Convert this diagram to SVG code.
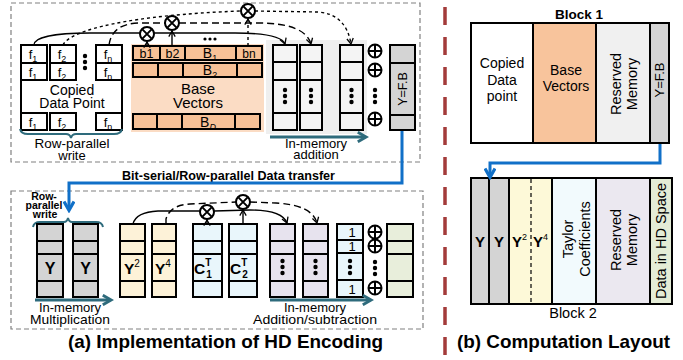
<svg xmlns="http://www.w3.org/2000/svg" xmlns:xlink="http://www.w3.org/1999/xlink" width="683" height="360" viewBox="0 0 683 360">
<style>
text{font-family:"Liberation Sans",Arial,sans-serif;fill:#000}
.cell{stroke:#000;stroke-width:2}
.w{fill:#fff}
.gr{fill:#d4d4d4}
.lg{fill:#f4f4f4}
.pe{fill:#f7c197}
.cr{fill:#fdf2d8}
.bl{fill:#e9f6fb}
.pu{fill:#e7e3ee}
.gn{fill:#e8eedb}
.box{fill:none;stroke:#808080;stroke-width:1.2;stroke-dasharray:5 3}
.teal{fill:none;stroke:#2e6b7c;stroke-width:3}
.brace{fill:none;stroke:#2e6b7c;stroke-width:2}
.blue{fill:none;stroke:#1170c8;stroke-width:3}
.ln{fill:none;stroke:#000;stroke-width:1.4}
.d1{stroke-dasharray:7 4}
.d2{stroke-dasharray:3 3}
.t13{font-size:13px}
.t14{font-size:14px}
.lab{font-size:13px;text-anchor:middle}
.c{text-anchor:middle}
.b{font-weight:bold}
</style>
<defs>
<g id="ot"><circle r="7" fill="#fff" stroke="#000" stroke-width="2"/><path d="M-4.6,-4.6L4.6,4.6M4.6,-4.6L-4.6,4.6" stroke="#000" stroke-width="2"/></g>
<g id="op"><circle r="6.5" fill="#fff" stroke="#000" stroke-width="2"/><path d="M-6.5,0H6.5M0,-6.5V6.5" stroke="#000" stroke-width="2"/></g>
<g id="vd"><circle cx="0" cy="-6" r="2.2"/><circle cx="0" cy="0" r="2.2"/><circle cx="0" cy="6" r="2.2"/></g>
<marker id="ah" viewBox="0 0 10 10" refX="8" refY="5" markerWidth="8" markerHeight="8" markerUnits="userSpaceOnUse" orient="auto"><path d="M1,1L8,5L1,9" fill="none" stroke="#000" stroke-width="1.6"/></marker>
<marker id="tah" viewBox="0 0 10 10" refX="7" refY="5" markerWidth="4" markerHeight="4" orient="auto"><path d="M1,1L8,5L1,9" fill="none" stroke="#2e6b7c" stroke-width="2.4"/></marker>
<marker id="bah" viewBox="0 0 10 10" refX="7" refY="5" markerWidth="4.2" markerHeight="4.2" orient="auto"><path d="M1,1L8,5L1,9" fill="none" stroke="#1170c8" stroke-width="2.6"/></marker>
</defs>

<rect x="0" y="0" width="683" height="360" fill="#fff"/>

<!-- section frames -->
<g id="frames">
<rect class="box" x="11" y="3" width="409" height="159"/>
<rect class="box" x="11" y="191" width="412" height="138"/>
<line x1="445" y1="7" x2="445" y2="360" stroke="#a33b3a" stroke-width="3.5" stroke-dasharray="18 12"/>
</g>

<!-- ===== (a) top: copied data point ===== -->
<g id="copied-data-point">
<rect class="w" x="21" y="45" width="101" height="85"/>
<rect class="cell w" x="21" y="45" width="26" height="18"/><rect class="cell w" x="21" y="63" width="26" height="17"/><rect class="cell w" x="21" y="113" width="26" height="17"/>
<rect class="cell w" x="50" y="45" width="26" height="18"/><rect class="cell w" x="50" y="63" width="26" height="17"/><rect class="cell w" x="50" y="113" width="26" height="17"/>
<rect class="cell w" x="96" y="45" width="26" height="18"/><rect class="cell w" x="96" y="63" width="26" height="17"/><rect class="cell w" x="96" y="113" width="26" height="17"/>
<path d="M21,80V113M122,80V113" stroke="#000" stroke-width="2"/>
<g class="t13 c">
<text x="33" y="59">f<tspan font-size="9" dy="3">1</tspan></text>
<text x="33" y="77">f<tspan font-size="9" dy="3">1</tspan></text>
<text x="33" y="127">f<tspan font-size="9" dy="3">1</tspan></text>
<text x="62" y="59">f<tspan font-size="9" dy="3">2</tspan></text>
<text x="62" y="77">f<tspan font-size="9" dy="3">2</tspan></text>
<text x="62" y="127">f<tspan font-size="9" dy="3">2</tspan></text>
<text x="108" y="59">f<tspan font-size="9" dy="3">n</tspan></text>
<text x="108" y="77">f<tspan font-size="9" dy="3">n</tspan></text>
<text x="108" y="127">f<tspan font-size="9" dy="3">n</tspan></text>
</g>
<use href="#vd" x="85" y="62"/>
<text class="t14 c" x="72" y="95">Copied</text>
<text class="t14 c" x="72" y="108">Data Point</text>
<path class="brace" d="M20,129Q21,134 28,134H66Q70,134 71,138Q72,134 76,134H114Q121,134 122,129"/>
<text class="lab" x="72" y="148" textLength="75" lengthAdjust="spacingAndGlyphs">Row-parallel</text>
<text class="lab" x="72" y="159.5">write</text>
</g>

<!-- base vectors -->
<g id="base-vectors">
<rect x="131" y="44" width="133" height="88" fill="#fbdcc4"/>
<rect class="cell pe" x="133" y="46" width="27" height="14"/><rect class="cell pe" x="160" y="46" width="25" height="14"/><rect class="cell pe" x="185" y="46" width="51" height="14"/><rect class="cell pe" x="236" y="46" width="26" height="14"/>
<rect class="cell pe" x="133" y="63" width="25" height="14"/><rect class="cell pe" x="158" y="63" width="25" height="14"/><rect class="cell pe" x="183" y="63" width="54" height="14"/><rect class="cell pe" x="237" y="63" width="25" height="14"/>
<rect class="cell pe" x="133" y="114" width="24" height="15"/><rect class="cell pe" x="157" y="114" width="25" height="15"/><rect class="cell pe" x="182" y="114" width="53" height="15"/><rect class="cell pe" x="235" y="114" width="25" height="15"/>
<text class="c" font-size="12.5" x="146.5" y="58">b1</text>
<text class="c" font-size="12.5" x="172.5" y="58">b2</text>
<text class="c t14" x="210" y="58">B<tspan font-size="9" dy="3">1</tspan></text>
<text class="c" font-size="12" x="249" y="58">bn</text>
<text class="c t14" x="210" y="75">B<tspan font-size="9" dy="3">2</tspan></text>
<text class="c t14" x="208" y="127">B<tspan font-size="9" dy="3" font-style="italic">D</tspan></text>
<text class="c" font-size="15" x="198" y="94">Base</text>
<text class="c" font-size="15" x="198" y="108">Vectors</text>
<g><circle cx="205" cy="39" r="1.6"/><circle cx="210" cy="39" r="1.6"/><circle cx="215" cy="39" r="1.6"/></g>
</g>

<!-- multipliers top -->
<g id="mult-top">
<use href="#ot" x="147" y="34"/>
<use href="#ot" x="172" y="23"/>
<use href="#ot" x="248" y="11"/>
</g>

<!-- in-memory addition arrays -->
<g id="addition-arrays">
<rect x="266" y="40" width="101" height="94" fill="#efefef"/>
<rect class="cell lg" x="273" y="45" width="24" height="17"/><rect class="cell lg" x="273" y="62" width="24" height="18"/><rect class="cell lg" x="273" y="80" width="24" height="33"/><rect class="cell lg" x="273" y="113" width="24" height="17"/>
<rect class="cell lg" x="300" y="45" width="22" height="17"/><rect class="cell lg" x="300" y="62" width="22" height="18"/><rect class="cell lg" x="300" y="80" width="22" height="33"/><rect class="cell lg" x="300" y="113" width="22" height="17"/>
<rect class="cell lg" x="340" y="45" width="23" height="17"/><rect class="cell lg" x="340" y="62" width="23" height="18"/><rect class="cell lg" x="340" y="80" width="23" height="33"/><rect class="cell lg" x="340" y="113" width="23" height="17"/>
<use href="#vd" x="285" y="96"/><use href="#vd" x="311" y="96"/><use href="#vd" x="351.5" y="96"/>
<use href="#op" x="375" y="51"/><use href="#op" x="375" y="70"/><use href="#vd" x="375" y="96"/><use href="#op" x="375" y="119"/>
<line class="teal" x1="270" y1="137" x2="365" y2="137" marker-end="url(#tah)"/>
<text class="lab" x="316" y="147.5">In-memory</text>
<text class="lab" x="316" y="159">addition</text>
</g>

<g id="y-fb">
<rect class="cell gr" x="390" y="45" width="25" height="18"/><rect class="cell gr" x="390" y="63" width="25" height="52"/><rect class="cell gr" x="390" y="115" width="25" height="15"/>
<text class="c" font-size="12.5" transform="translate(407,89) rotate(-90)">Y=F.B</text>
</g>

<!-- ===== (a) bottom ===== -->
<g id="row-parallel-write">
<text class="c b" font-size="10.5" x="44" y="200">Row-</text>
<text class="c b" font-size="10.5" x="44" y="209">parallel</text>
<text class="c b" font-size="10.5" x="45" y="218">write</text>
<path class="brace" d="M33,227Q34,222 40,222H64Q67,222 68,218Q69,222 72,222H96Q102,222 103,227"/>
</g>

<g id="y-columns">
<rect class="cell gr" x="37" y="224" width="26" height="17"/><rect class="cell gr" x="37" y="241" width="26" height="13"/><rect class="cell gr" x="37" y="254" width="26" height="27"/><rect class="cell gr" x="37" y="281" width="26" height="16"/>
<rect class="cell gr" x="73" y="224" width="25" height="17"/><rect class="cell gr" x="73" y="241" width="25" height="13"/><rect class="cell gr" x="73" y="254" width="25" height="27"/><rect class="cell gr" x="73" y="281" width="25" height="16"/>
<text class="c b" font-size="16" x="50" y="274">Y</text>
<text class="c b" font-size="16" x="85.5" y="274">Y</text>
<line class="teal" x1="35" y1="300" x2="110" y2="300" marker-end="url(#tah)"/>
<text class="lab" x="70" y="312">In-memory</text>
<text class="lab" x="70" y="324" textLength="80" lengthAdjust="spacingAndGlyphs">Multiplication</text>
</g>

<g id="y-powers">
<rect class="cell cr" x="120" y="224" width="25" height="17"/><rect class="cell cr" x="120" y="241" width="25" height="13"/><rect class="cell cr" x="120" y="254" width="25" height="27"/><rect class="cell cr" x="120" y="281" width="25" height="16"/>
<rect class="cell cr" x="152" y="224" width="24" height="17"/><rect class="cell cr" x="152" y="241" width="24" height="13"/><rect class="cell cr" x="152" y="254" width="24" height="27"/><rect class="cell cr" x="152" y="281" width="24" height="16"/>
<text class="b" font-size="15.5" x="124" y="274">Y<tspan font-size="10" font-weight="normal" dy="-7">2</tspan></text>
<text class="b" font-size="15.5" x="155" y="274">Y<tspan font-size="10" font-weight="normal" dy="-7">4</tspan></text>
</g>

<g id="taylor-coefficients">
<rect class="cell bl" x="193" y="224" width="29" height="17"/><rect class="cell bl" x="193" y="241" width="29" height="13"/><rect class="cell bl" x="193" y="254" width="29" height="27"/><rect class="cell bl" x="193" y="281" width="29" height="16"/>
<rect class="cell bl" x="229" y="224" width="28" height="17"/><rect class="cell bl" x="229" y="241" width="28" height="13"/><rect class="cell bl" x="229" y="254" width="28" height="27"/><rect class="cell bl" x="229" y="281" width="28" height="16"/>
<text class="b" font-size="15.5" x="194" y="274">C<tspan font-size="10" dy="-8">T</tspan><tspan font-size="10" dx="-5" dy="12">1</tspan></text>
<text class="b" font-size="15.5" x="230" y="274">C<tspan font-size="10" dy="-8">T</tspan><tspan font-size="10" dx="-5" dy="12">2</tspan></text>
</g>

<g id="mult-bottom">
<use href="#ot" x="207" y="212"/>
<use href="#ot" x="243" y="202"/>
</g>

<g id="addsub-arrays">
<rect class="cell pu" x="270" y="224" width="25" height="17"/><rect class="cell pu" x="270" y="241" width="25" height="13"/><rect class="cell pu" x="270" y="254" width="25" height="27"/><rect class="cell pu" x="270" y="281" width="25" height="16"/>
<rect class="cell pu" x="303" y="224" width="25" height="17"/><rect class="cell pu" x="303" y="241" width="25" height="13"/><rect class="cell pu" x="303" y="254" width="25" height="27"/><rect class="cell pu" x="303" y="281" width="25" height="16"/>
<use href="#vd" x="282.5" y="267"/><use href="#vd" x="315.5" y="267"/>
<rect class="cell bl" x="337" y="224" width="26" height="16"/><rect class="cell bl" x="337" y="240" width="26" height="13"/><rect class="cell bl" x="337" y="253" width="26" height="27"/><rect class="cell bl" x="337" y="280" width="26" height="17"/>
<text class="c" font-size="13" x="352" y="237">1</text>
<text class="c" font-size="13" x="352" y="251">1</text>
<text class="c" font-size="13" x="352" y="294">1</text>
<use href="#vd" x="350" y="267"/>
<use href="#op" x="375" y="232"/><use href="#op" x="375" y="246"/><use href="#vd" x="375" y="268"/><use href="#op" x="375" y="288"/>
<line class="teal" x1="270" y1="300" x2="370" y2="300" marker-end="url(#tah)"/>
<text class="lab" x="315" y="312">In-memory</text>
<text class="lab" x="315" y="324" textLength="124" lengthAdjust="spacingAndGlyphs">Addition/subtraction</text>
</g>

<g id="hd-output">
<rect class="cell gn" x="387" y="224" width="26" height="17"/><rect class="cell gn" x="387" y="241" width="26" height="13"/><rect class="cell gn" x="387" y="254" width="26" height="27"/><rect class="cell gn" x="387" y="281" width="26" height="16"/>
</g>

<text class="b" font-size="12" x="122" y="180" textLength="213" lengthAdjust="spacingAndGlyphs">Bit-serial/Row-parallel Data transfer</text>
<text class="b" font-size="19" x="68" y="348" textLength="315" lengthAdjust="spacingAndGlyphs">(a) Implementation of HD Encoding</text>

<!-- ===== (b) layout ===== -->
<g id="block-1">
<text class="c b" font-size="13.5" x="579" y="19">Block 1</text>
<rect class="cell w" x="471" y="23" width="62" height="120"/>
<rect class="cell" fill="#f8c49c" x="533" y="23" width="63" height="120"/>
<rect class="cell" fill="#f0f0f0" x="596" y="23" width="54" height="120"/>
<rect class="cell gr" x="650" y="23" width="19" height="120"/>
<text class="c t14" x="502" y="68">Copied</text>
<text class="c t14" x="502" y="85">Data</text>
<text class="c t14" x="502" y="101">point</text>
<text class="c t14" x="566" y="75">Base</text>
<text class="c t14" x="566" y="91">Vectors</text>
<text class="c" font-size="14.5" transform="translate(621,84) rotate(-90)">Reserved</text>
<text class="c" font-size="14.5" transform="translate(637,84) rotate(-90)">Memory</text>
<text class="c" font-size="13" transform="translate(664,80) rotate(-90)">Y=F.B</text>
</g>

<g id="block-2">
<rect class="cell gr" x="471" y="178" width="18" height="126"/>
<rect class="cell gr" x="489" y="178" width="20" height="126"/>
<rect class="cell" fill="#fdf9d8" x="509" y="178" width="43" height="126"/>
<line x1="531" y1="179" x2="531" y2="303" stroke="#000" stroke-width="1.2" stroke-dasharray="4 3"/>
<rect class="cell" fill="#f2fafd" x="552" y="178" width="44" height="126"/>
<rect class="cell" fill="#ebe8f0" x="596" y="178" width="54" height="126"/>
<rect class="cell" fill="#e4ecd6" x="650" y="178" width="22" height="126"/>
<text class="c b" font-size="15" x="480" y="247">Y</text>
<text class="c b" font-size="15" x="499" y="247">Y</text>
<text class="b" font-size="15" x="512" y="247">Y<tspan font-size="9" font-weight="normal" dy="-7">2</tspan></text>
<text class="b" font-size="15" x="533" y="247">Y<tspan font-size="9" font-weight="normal" dy="-7">4</tspan></text>
<text class="c" font-size="14.5" transform="translate(573,239) rotate(-90)">Taylor</text>
<text class="c" font-size="14.5" transform="translate(590,239) rotate(-90)">Coefficients</text>
<text class="c" font-size="14.5" transform="translate(621,240) rotate(-90)">Reserved</text>
<text class="c" font-size="14.5" transform="translate(637,240) rotate(-90)">Memory</text>
<text class="c" font-size="14.5" transform="translate(666,241) rotate(-90)">Data in HD Space</text>
<text class="c" font-size="14.5" x="573" y="318">Block 2</text>
</g>
<text class="b" font-size="19" x="457" y="348" textLength="213" lengthAdjust="spacingAndGlyphs">(b) Computation Layout</text>

<!-- ===== connectors ===== -->
<g id="connectors">
<!-- top -->
<path class="ln" d="M34,45C34,37 55,33 90,33L140,33"/>
<path class="ln" d="M154,33L235,33Q281,33 285,44" marker-end="url(#ah)"/>
<path class="ln d1" d="M109,45Q112,24 138,23L165,23"/>
<path class="ln d1" d="M179,23L258,23Q305,23 311,44" marker-end="url(#ah)"/>
<path class="ln d2" d="M63,45C70,30 130,15 241,11"/>
<path class="ln d2" d="M255,11L318,12Q346,14 351,44" marker-end="url(#ah)"/>
<line class="ln" x1="147" y1="46" x2="147" y2="42" marker-end="url(#ah)"/>
<line class="ln" x1="172" y1="46" x2="172" y2="31" marker-end="url(#ah)"/>
<line class="ln d2" x1="248" y1="46" x2="248" y2="19" marker-end="url(#ah)"/>
<!-- transfer -->
<path class="blue" d="M402,131V183H69V209" marker-end="url(#bah)"/>
<!-- bottom -->
<path class="ln" d="M133,224Q136,212 158,211L200,211"/>
<path class="ln" d="M214,211L250,210Q282,210 287,223" marker-end="url(#ah)"/>
<path class="ln d1" d="M166,224L166,219Q170,205 190,204L236,202"/>
<path class="ln d1" d="M250,202L276,203Q312,205 317,223" marker-end="url(#ah)"/>
<line class="ln" x1="207" y1="224" x2="207" y2="220" marker-end="url(#ah)"/>
<line class="ln" x1="243" y1="224" x2="243" y2="210" marker-end="url(#ah)"/>
<!-- layout -->
<path class="blue" d="M660,144V163H490V176" marker-end="url(#bah)"/>
</g>
</svg>
